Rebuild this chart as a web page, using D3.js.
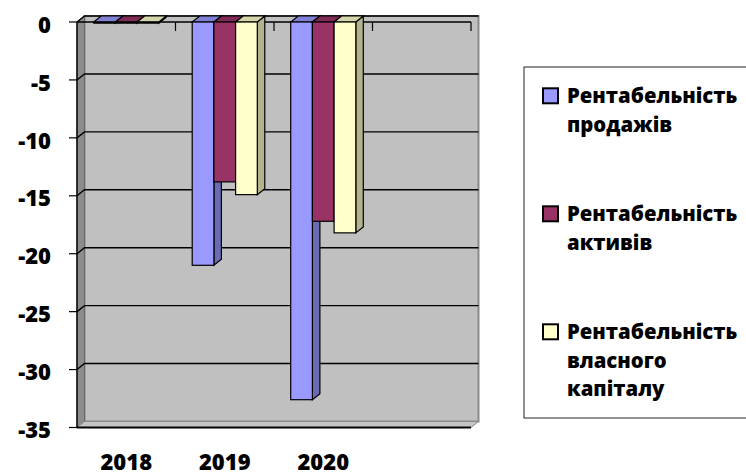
<!DOCTYPE html>
<html>
<head>
<meta charset="utf-8">
<script src="https://cdn.jsdelivr.net/npm/d3@7"></script>
<style>
  html, body { margin: 0; padding: 0; background: #fff; }
  text { font-family: "Open Sans", "Noto Sans", sans-serif; font-weight: 800; fill: #000; }
</style>
</head>
<body>
<div id="chart"></div>
<script>
var categories = ["2018", "2019", "2020", ""];
var seriesKeys = ["sales", "assets", "equity"];
var seriesLabels = [
  ["Рентабельність", "продажів"],
  ["Рентабельність", "активів"],
  ["Рентабельність", "власного", "капіталу"]
];
var seriesColors = ["#9999FF", "#993366", "#FFFFCC"];
var sales = [-0.1, -21.0, -32.6, null];
var assets = [-0.1, -13.8, -17.2, null];
var equity = [-0.1, -14.9, -18.2, null];
var yTicks = [0, -5, -10, -15, -20, -25, -30, -35];

var width = 746, height = 475;
var dx = 7.5, dy = -6;   // 3d depth offset

var svg = d3.select("#chart").append("svg")
    .attr("width", width)
    .attr("height", height);

var x0 = d3.scaleBand()
    .domain(categories)
    .range([77, 471]);

var x1 = d3.scaleBand()
    .domain(seriesKeys)
    .range([0, x0.bandwidth()])
    .paddingInner(0)
    .paddingOuter(0.77);

var y = d3.scaleLinear()
    .domain([-35, 0])
    .range([427.5, 22]);

var color = d3.scaleOrdinal().domain(seriesKeys).range(seriesColors);

var xLeft = x0.range()[0], xRight = x0.range()[1];
var yTop = y(0), yBottom = y(-35);

function pts(a) { return a.map(function(p) { return p.join(","); }).join(" "); }

// back wall
svg.append("rect")
    .attr("x", xLeft + dx)
    .attr("y", yTop + dy)
    .attr("width", xRight - xLeft)
    .attr("height", yBottom - yTop)
    .style("fill", "#C0C0C0")
    .style("stroke", "#8a8a8a")
    .style("stroke-width", 2);

// left wall
svg.append("polygon")
    .attr("points", pts([[xLeft, yTop], [xLeft + dx, yTop + dy], [xLeft + dx, yBottom + dy], [xLeft, yBottom]]))
    .style("fill", "#8c8c8c")
    .style("stroke", "#666")
    .style("stroke-width", 1);

// floor
svg.append("polygon")
    .attr("points", pts([[xLeft, yBottom], [xLeft + dx, yBottom + dy], [xRight + dx, yBottom + dy], [xRight, yBottom]]))
    .style("fill", "#c4c4c4")
    .style("stroke", "#8a8a8a")
    .style("stroke-width", 1);

// gridlines
var grid = svg.append("g");
yTicks.forEach(function(t) {
  if (t === -35) return;
  var yy = y(t);
  grid.append("polyline")
      .attr("points", pts([[xLeft, yy], [xLeft + dx, yy + dy], [xRight + dx, yy + dy]]))
      .style("fill", "none")
      .style("stroke", "#000")
      .style("stroke-width", 1.4);
});

// front line at 0
svg.append("line")
    .attr("x1", xLeft).attr("x2", xRight)
    .attr("y1", yTop).attr("y2", yTop)
    .style("stroke", "#000").style("stroke-width", 1.4);

// category ticks
var catEdges = categories.map(function(c) { return x0(c); }).concat([xRight]);
svg.append("g").selectAll("line")
    .data(catEdges.slice(1))
    .enter().append("line")
    .attr("x1", function(d) { return d; })
    .attr("x2", function(d) { return d; })
    .attr("y1", yTop)
    .attr("y2", yTop + 9)
    .style("stroke", "#000")
    .style("stroke-width", 1.2);

// bars
var data = { sales: sales, assets: assets, equity: equity };
var bars = svg.append("g");
categories.forEach(function(cat, i) {
  seriesKeys.forEach(function(key) {
    var v = data[key][i];
    if (v === null) return;
    var c = d3.rgb(color(key));
    var xa = x0(cat) + x1(key), xb = xa + x1.bandwidth();
    var ya = y(0), yb = y(v);
    var g = bars.append("g");
    g.append("polygon")
        .attr("points", pts([[xb, ya], [xb + dx, ya + dy], [xb + dx, yb + dy], [xb, yb]]))
        .style("fill", c.darker(1))
        .style("stroke", "#000").style("stroke-width", 1.2);
    g.append("polygon")
        .attr("points", pts([[xa, ya], [xa + dx, ya + dy], [xb + dx, ya + dy], [xb, ya]]))
        .style("fill", c.darker(0.5))
        .style("stroke", "#000").style("stroke-width", 1.2);
    g.append("rect")
        .attr("x", xa)
        .attr("y", ya)
        .attr("width", xb - xa)
        .attr("height", Math.max(0.5, yb - ya))
        .style("fill", c)
        .style("stroke", "#000").style("stroke-width", 1.2);
  });
});

// value axis
var yAxis = svg.append("g");
yAxis.append("line")
    .attr("x1", xLeft).attr("x2", xLeft)
    .attr("y1", yTop).attr("y2", yBottom)
    .style("stroke", "#000").style("stroke-width", 1.4);
yAxis.append("line")
    .attr("x1", xLeft).attr("x2", xRight)
    .attr("y1", yBottom).attr("y2", yBottom)
    .style("stroke", "#000").style("stroke-width", 1.8);
yAxis.selectAll(".tick")
    .data(yTicks)
    .enter().append("line")
    .attr("x1", xLeft - 8).attr("x2", xLeft)
    .attr("y1", function(d) { return y(d); })
    .attr("y2", function(d) { return y(d); })
    .style("stroke", "#000").style("stroke-width", 1.2);
yAxis.selectAll("text")
    .data(yTicks)
    .enter().append("text")
    .attr("x", 51)
    .attr("y", function(d) { return y(d) + 3; })
    .attr("dy", ".35em")
    .attr("text-anchor", "end")
    .style("font-size", "22px")
    .text(function(d) { return d; });

// category labels
svg.append("g").selectAll("text")
    .data(categories)
    .enter().append("text")
    .attr("x", function(d) { return x0(d) + x0.bandwidth() / 2; })
    .attr("y", 470)
    .attr("text-anchor", "middle")
    .style("font-size", "22px")
    .text(function(d) { return d; });

// legend
var legend = svg.append("g");
legend.append("rect")
    .attr("x", 524)
    .attr("y", 67)
    .attr("width", 240)
    .attr("height", 351)
    .style("fill", "#fff")
    .style("stroke", "#222")
    .style("stroke-width", 1);

var item = legend.selectAll(".item")
    .data(seriesKeys)
    .enter().append("g")
    .attr("class", "item")
    .attr("transform", function(d, i) { return "translate(0," + (103.3 + i * 118) + ")"; });

item.append("rect")
    .attr("x", 543)
    .attr("y", -15)
    .attr("width", 15)
    .attr("height", 15)
    .style("fill", function(d) { return color(d); })
    .style("stroke", "#000")
    .style("stroke-width", 2);

item.append("text")
    .attr("x", 567)
    .style("font-size", "20.3px")
    .selectAll("tspan")
    .data(function(d, i) { return seriesLabels[i]; })
    .enter().append("tspan")
    .attr("x", 567)
    .attr("y", function(d, j) { return j * 28.3; })
    .text(function(d) { return d; });
</script>
</body>
</html>
